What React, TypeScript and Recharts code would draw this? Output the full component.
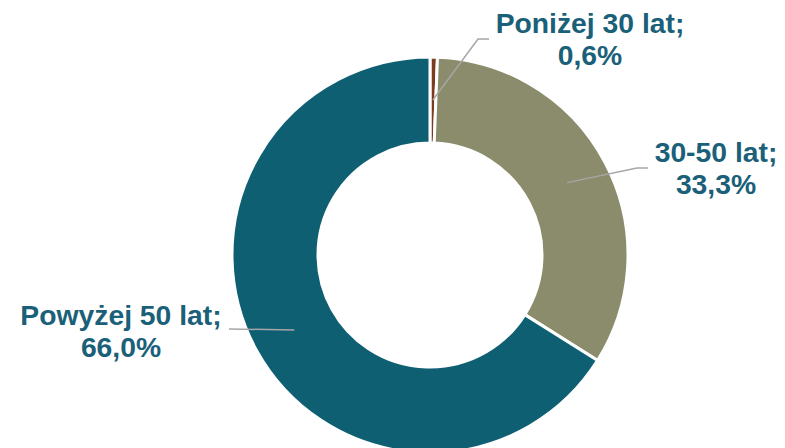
import React from "react";
import { PieChart, Pie, Cell } from "recharts";

const categories = ["Poniżej 30 lat", "30-50 lat", "Powyżej 50 lat"];
const values = [0.6, 33.3, 66.0];
const valueLabels = ["0,6%", "33,3%", "66,0%"];
const colors = ["#7A3B1F", "#8A8C6C", "#0F5F73"];

// label layout offsets relative to pie centre (position/styling only)
const labelLayout = [
  { elbow: [48, -216], end: [59, -216], text: [160, -222] },
  { elbow: [207, -87], end: [218, -87], text: [286, -93] },
  { elbow: [-201, 74], end: [-201, 74], text: [-309, 70] },
];

const data = categories.map((name, i) => ({ name, value: values[i], pct: valueLabels[i] }));

const RAD = Math.PI / 180;

const renderLabel = (props: any) => {
  const { cx, cy, midAngle, innerRadius, outerRadius, index } = props;
  const r = (innerRadius + outerRadius) / 2;
  const sx = cx + r * Math.cos(-midAngle * RAD);
  const sy = cy + r * Math.sin(-midAngle * RAD);
  const L = labelLayout[index];
  const ex = cx + L.elbow[0];
  const ey = cy + L.elbow[1];
  const fx = cx + L.end[0];
  const fy = cy + L.end[1];
  const tx = cx + L.text[0];
  const ty = cy + L.text[1];
  return (
    <g key={`lbl-${index}`}>
      <polyline
        points={`${sx},${sy} ${ex},${ey} ${fx},${fy}`}
        fill="none"
        stroke="#A6A6A6"
        strokeWidth={1.5}
      />
      <text
        x={tx}
        y={ty}
        textAnchor="middle"
        fill="#1B6079"
        fontFamily="'Liberation Sans', Arial, sans-serif"
        fontWeight="bold"
        fontSize={28.3}
      >
        <tspan x={tx} dy={0}>{data[index].name};</tspan>
        <tspan x={tx} dy={32}>{data[index].pct}</tspan>
      </text>
    </g>
  );
};

export default function App() {
  return (
    <div style={{ position: "absolute", left: 0, top: 0, width: 785, height: 448, background: "#fff" }}>
      <PieChart width={785} height={448} margin={{ top: 0, right: 0, bottom: 0, left: 0 }}>
        <Pie
          data={data}
          dataKey="value"
          nameKey="name"
          cx={430}
          cy={255}
          innerRadius={112}
          outerRadius={198}
          startAngle={90}
          endAngle={-270}
          stroke="#ffffff"
          strokeWidth={3}
          isAnimationActive={false}
          labelLine={false}
          label={renderLabel}
        >
          {data.map((d, i) => (
            <Cell key={d.name} fill={colors[i]} />
          ))}
        </Pie>
      </PieChart>
    </div>
  );
}
